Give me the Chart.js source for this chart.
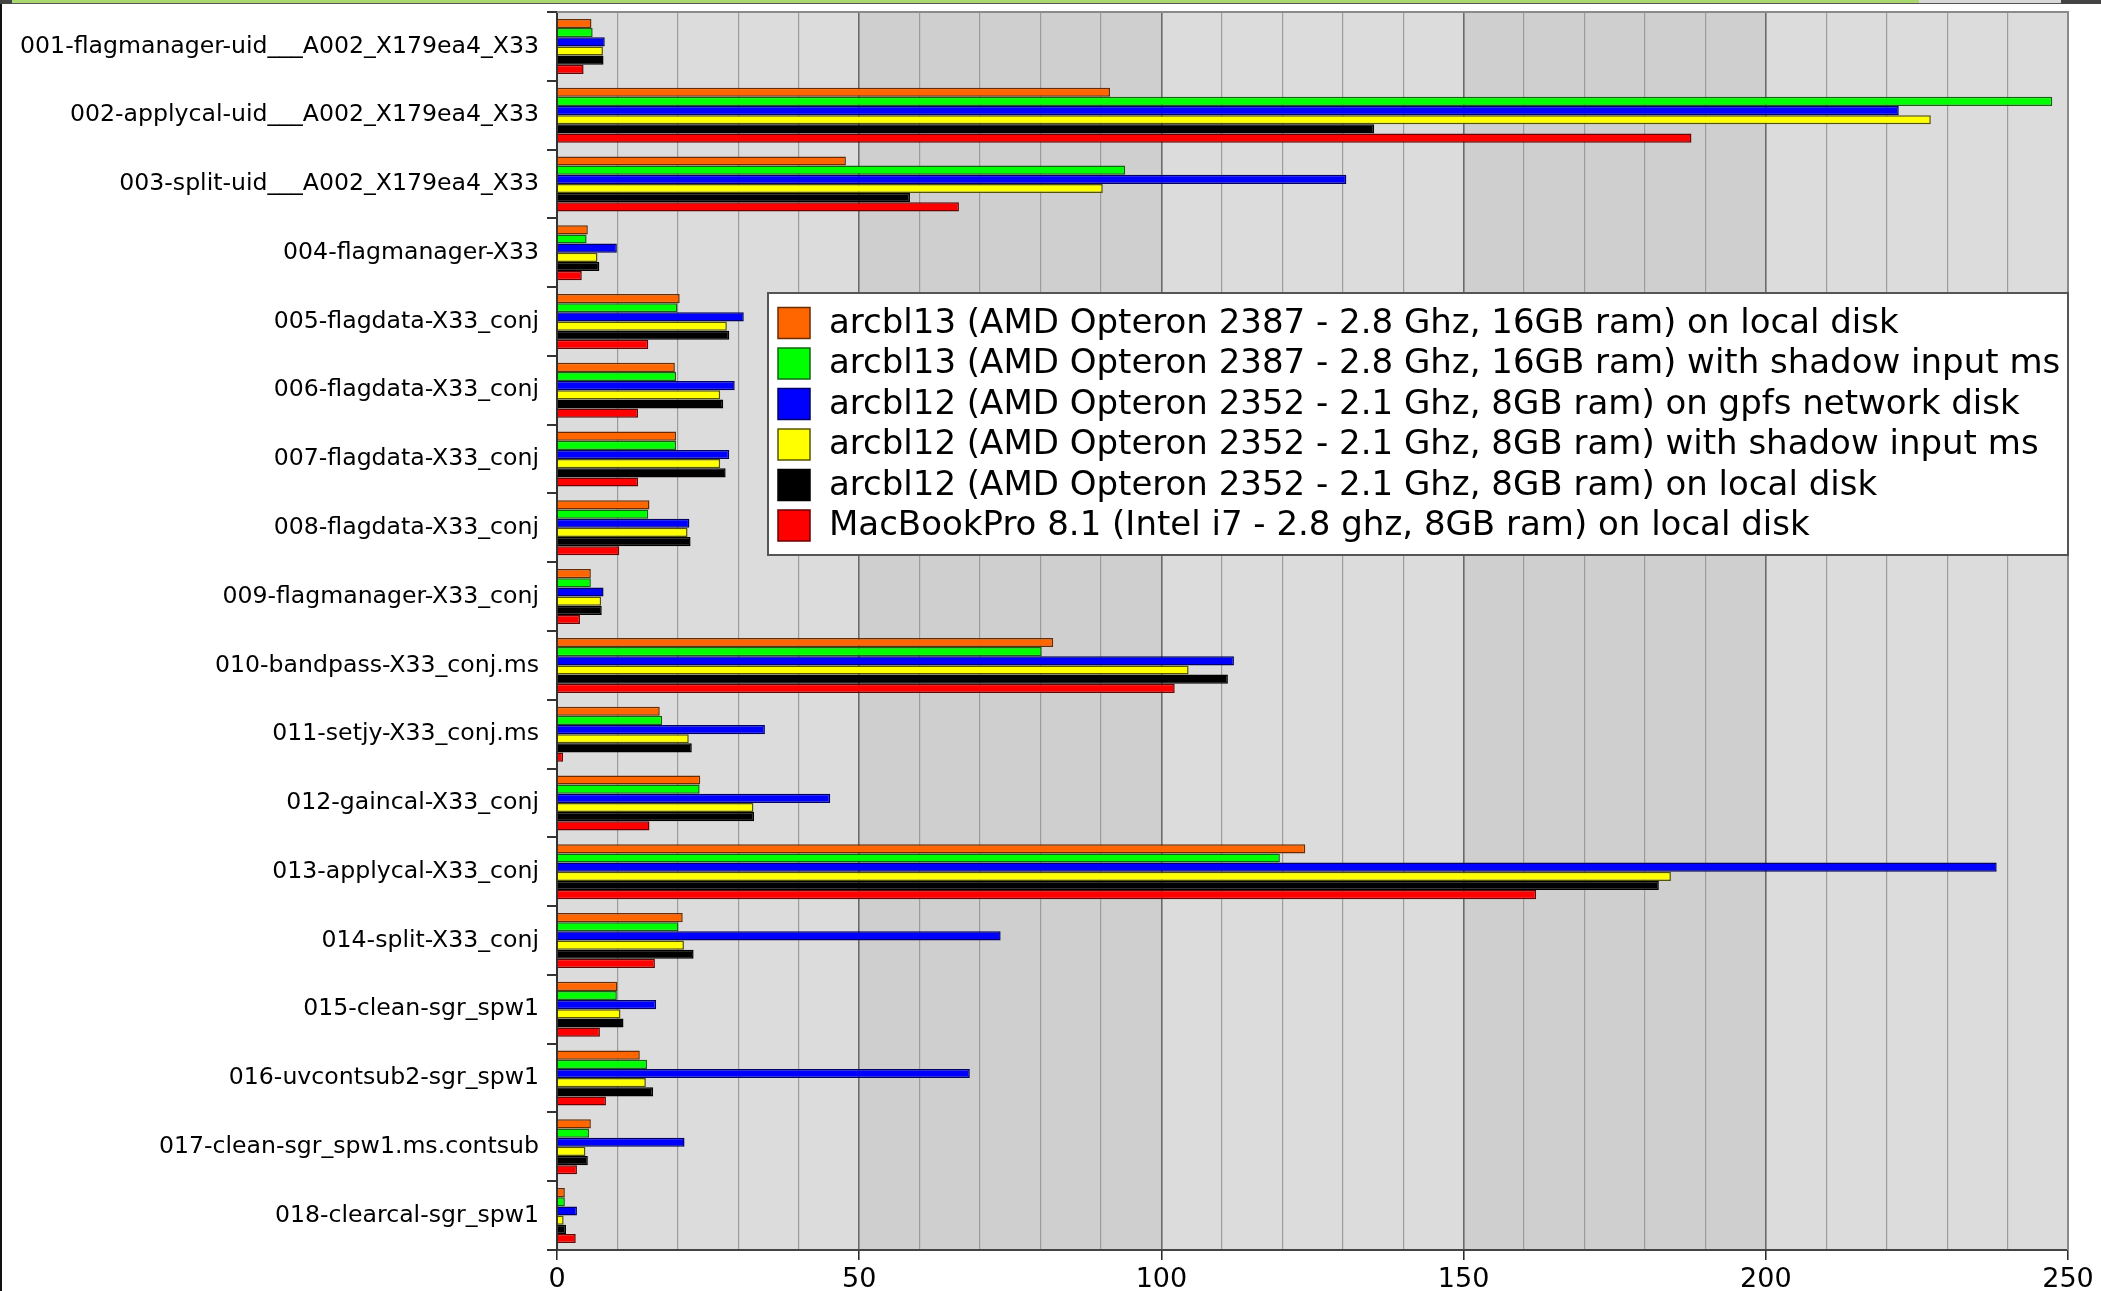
<!DOCTYPE html>
<html>
<head>
<meta charset="utf-8">
<script src="https://cdn.jsdelivr.net/npm/chart.js@4.4.0/dist/chart.umd.min.js"></script>
<style>
  html, body { margin: 0; padding: 0; background: #ffffff; overflow: hidden; }
  #wrap { position: absolute; left: 0; top: 0; width: 2101px; height: 1291px; }
  #c { position: absolute; left: 0; top: 0; }
  #topbar { position: absolute; left: 12px; top: 0; width: 1907px; height: 3px; background: #a9d86e; border-bottom: 1px solid #555; }
  #topbar2 { position: absolute; left: 1919px; top: 0; width: 142px; height: 3px; background: #d8d8d8; border-bottom: 1px solid #555; }
  #topbar3 { position: absolute; left: 2061px; top: 0; width: 40px; height: 4px; background: #444; }
  #topleft { position: absolute; left: 0; top: 0; width: 12px; height: 4px; background: #444; }
  #leftline { position: absolute; left: 0; top: 4px; width: 2px; height: 1287px; background: #111; }
</style>
</head>
<body>
<div id="wrap">
  <canvas id="c" width="2101" height="1291"></canvas>
  <div id="topbar"></div><div id="topbar2"></div><div id="topbar3"></div>
  <div id="topleft"></div><div id="leftline"></div>
</div>
<script>
const categories = [
  "001-flagmanager-uid___A002_X179ea4_X33",
  "002-applycal-uid___A002_X179ea4_X33",
  "003-split-uid___A002_X179ea4_X33",
  "004-flagmanager-X33",
  "005-flagdata-X33_conj",
  "006-flagdata-X33_conj",
  "007-flagdata-X33_conj",
  "008-flagdata-X33_conj",
  "009-flagmanager-X33_conj",
  "010-bandpass-X33_conj.ms",
  "011-setjy-X33_conj.ms",
  "012-gaincal-X33_conj",
  "013-applycal-X33_conj",
  "014-split-X33_conj",
  "015-clean-sgr_spw1",
  "016-uvcontsub2-sgr_spw1",
  "017-clean-sgr_spw1.ms.contsub",
  "018-clearcal-sgr_spw1"
];

const seriesLabels = [
  "arcbl13 (AMD Opteron 2387 - 2.8 Ghz, 16GB ram) on local disk",
  "arcbl13 (AMD Opteron 2387 - 2.8 Ghz, 16GB ram) with shadow input ms",
  "arcbl12 (AMD Opteron 2352 - 2.1 Ghz, 8GB ram) on gpfs network disk",
  "arcbl12 (AMD Opteron 2352 - 2.1 Ghz, 8GB ram) with shadow input ms",
  "arcbl12 (AMD Opteron 2352 - 2.1 Ghz, 8GB ram) on local disk",
  "MacBookPro 8.1 (Intel i7 - 2.8 ghz, 8GB ram) on local disk"
];

const arcbl13Local  = [5.7, 91.5, 47.8, 5.1, 20.3, 19.5, 19.7, 15.3, 5.6, 82.1, 17.0, 23.7, 123.8, 20.8, 10.0, 13.7, 5.6, 1.3];
const arcbl13Shadow = [5.9, 247.4, 94.0, 4.9, 19.9, 19.7, 19.7, 15.1, 5.6, 80.2, 17.4, 23.6, 119.6, 20.1, 9.9, 14.9, 5.3, 1.3];
const arcbl12Gpfs   = [7.9, 222.0, 130.6, 9.9, 30.9, 29.4, 28.5, 21.9, 7.7, 112.0, 34.4, 45.2, 238.2, 73.4, 16.4, 68.3, 21.1, 3.3];
const arcbl12Shadow = [7.6, 227.3, 90.3, 6.7, 28.1, 27.0, 27.0, 21.6, 7.3, 104.5, 21.8, 32.5, 184.3, 21.0, 10.5, 14.7, 4.7, 1.1];
const arcbl12Local  = [7.7, 135.2, 58.4, 7.0, 28.5, 27.5, 27.9, 22.1, 7.4, 111.0, 22.3, 32.6, 182.3, 22.6, 11.0, 15.9, 5.1, 1.5];
const macbookLocal  = [4.4, 187.7, 66.5, 4.1, 15.1, 13.4, 13.4, 10.3, 3.8, 102.2, 1.0, 15.3, 162.0, 16.2, 7.1, 8.1, 3.3, 3.1];

const xTickValues = [0, 50, 100, 150, 200, 250];

const seriesValues = [arcbl13Local, arcbl13Shadow, arcbl12Gpfs, arcbl12Shadow, arcbl12Local, macbookLocal];
const seriesColors = ['#ff6600', '#00ff00', '#0000ff', '#ffff00', '#000000', '#ff0000'];
const seriesBorders = ['#6b2b00', '#116611', '#000066', '#555500', '#000000', '#6b0000'];

const FONT = "'DejaVu Sans', 'Liberation Sans', sans-serif";

const bandsPlugin = {
  id: 'bands',
  beforeDraw(chart) {
    const { ctx, chartArea } = chart;
    const x = chart.scales.x;
    ctx.save();
    for (let i = 0; i < xTickValues.length - 1; i++) {
      const x0 = x.getPixelForValue(xTickValues[i]);
      const x1 = x.getPixelForValue(xTickValues[i + 1]);
      ctx.fillStyle = (i % 2 === 0) ? '#dcdcdc' : '#cfcfcf';
      ctx.fillRect(x0, chartArea.top, x1 - x0, chartArea.bottom - chartArea.top);
    }
    ctx.restore();
  },
  afterDatasetsDraw(chart) {
    const { ctx, chartArea } = chart;
    ctx.save();
    ctx.strokeStyle = '#8a8a8a';
    ctx.lineWidth = 2;
    ctx.beginPath();
    ctx.moveTo(chartArea.left, chartArea.top);
    ctx.lineTo(chartArea.right, chartArea.top);
    ctx.lineTo(chartArea.right, chartArea.bottom);
    ctx.stroke();
    ctx.restore();
  }
};

const boxLegendPlugin = {
  id: 'boxLegend',
  afterDraw(chart, args, opts) {
    const { ctx, chartArea } = chart;
    const left = chartArea.right - opts.width;
    const top = chartArea.top + opts.offsetTop;
    ctx.save();
    ctx.fillStyle = '#ffffff';
    ctx.fillRect(left, top, opts.width, opts.height);
    ctx.strokeStyle = '#555555';
    ctx.lineWidth = 2;
    ctx.strokeRect(left, top, opts.width, opts.height);
    ctx.font = opts.fontSize + 'px ' + FONT;
    ctx.textBaseline = 'middle';
    ctx.textAlign = 'left';
    chart.data.datasets.forEach((ds, i) => {
      const cy = top + opts.firstRow + i * opts.rowStep;
      ctx.fillStyle = ds.backgroundColor;
      ctx.fillRect(left + opts.swatchX, cy - opts.swatchH / 2, opts.swatchW, opts.swatchH);
      ctx.strokeStyle = ds.borderColor;
      ctx.lineWidth = 1.5;
      ctx.strokeRect(left + opts.swatchX, cy - opts.swatchH / 2, opts.swatchW, opts.swatchH);
      ctx.fillStyle = '#000000';
      ctx.fillText(ds.label, left + opts.textX, cy + 1);
    });
    ctx.restore();
  }
};

new Chart(document.getElementById('c'), {
  type: 'bar',
  data: {
    labels: categories,
    datasets: seriesLabels.map((lab, i) => ({
      label: lab,
      data: seriesValues[i],
      backgroundColor: seriesColors[i],
      borderColor: seriesBorders[i],
      borderWidth: 1.5,
      borderSkipped: 'start',
      categoryPercentage: 0.8,
      barPercentage: 1.0
    }))
  },
  options: {
    indexAxis: 'y',
    responsive: false,
    animation: false,
    devicePixelRatio: 1,
    layout: { padding: { left: 14, right: 33, top: 12, bottom: 0 } },
    plugins: {
      legend: { display: false },
      tooltip: { enabled: false },
      boxLegend: {
        width: 1300, height: 262, offsetTop: 281,
        firstRow: 30, rowStep: 40.5,
        swatchX: 10, swatchW: 32, swatchH: 31,
        textX: 61, fontSize: 34
      }
    },
    scales: {
      x: {
        type: 'linear',
        min: 0, max: 250,
        ticks: {
          stepSize: 10,
          autoSkip: false,
          maxRotation: 0,
          color: '#000',
          padding: 4,
          font: { family: FONT, size: 27 },
          callback: (v) => (xTickValues.includes(v) ? String(v) : '')
        },
        grid: {
          color: (c) => (c.tick && c.tick.value % 50 === 0 ? '#6a6a6a' : '#9c9c9c'),
          lineWidth: (c) => (c.tick && c.tick.value % 50 === 0 ? 1.6 : 1.2),
          tickColor: (c) => (c.tick && c.tick.value % 50 === 0 ? '#222' : 'rgba(0,0,0,0)'),
          tickLength: 10,
          tickWidth: 1.5
        },
        border: { color: '#444', width: 2 },
        afterFit: (s) => { s.height = 41; }
      },
      y: {
        type: 'category',
        offset: true,
        ticks: {
          color: '#000',
          padding: 8,
          autoSkip: false,
          font: { family: FONT, size: 23.6 }
        },
        grid: {
          drawOnChartArea: false,
          offset: true,
          color: '#333',
          tickLength: 10,
          lineWidth: 2
        },
        border: { color: '#333', width: 2 },
        afterFit: (s) => { s.width = 543; s.paddingTop = 0; s.paddingBottom = 0; }
      }
    }
  },
  plugins: [bandsPlugin, boxLegendPlugin]
});
</script>
</body>
</html>
